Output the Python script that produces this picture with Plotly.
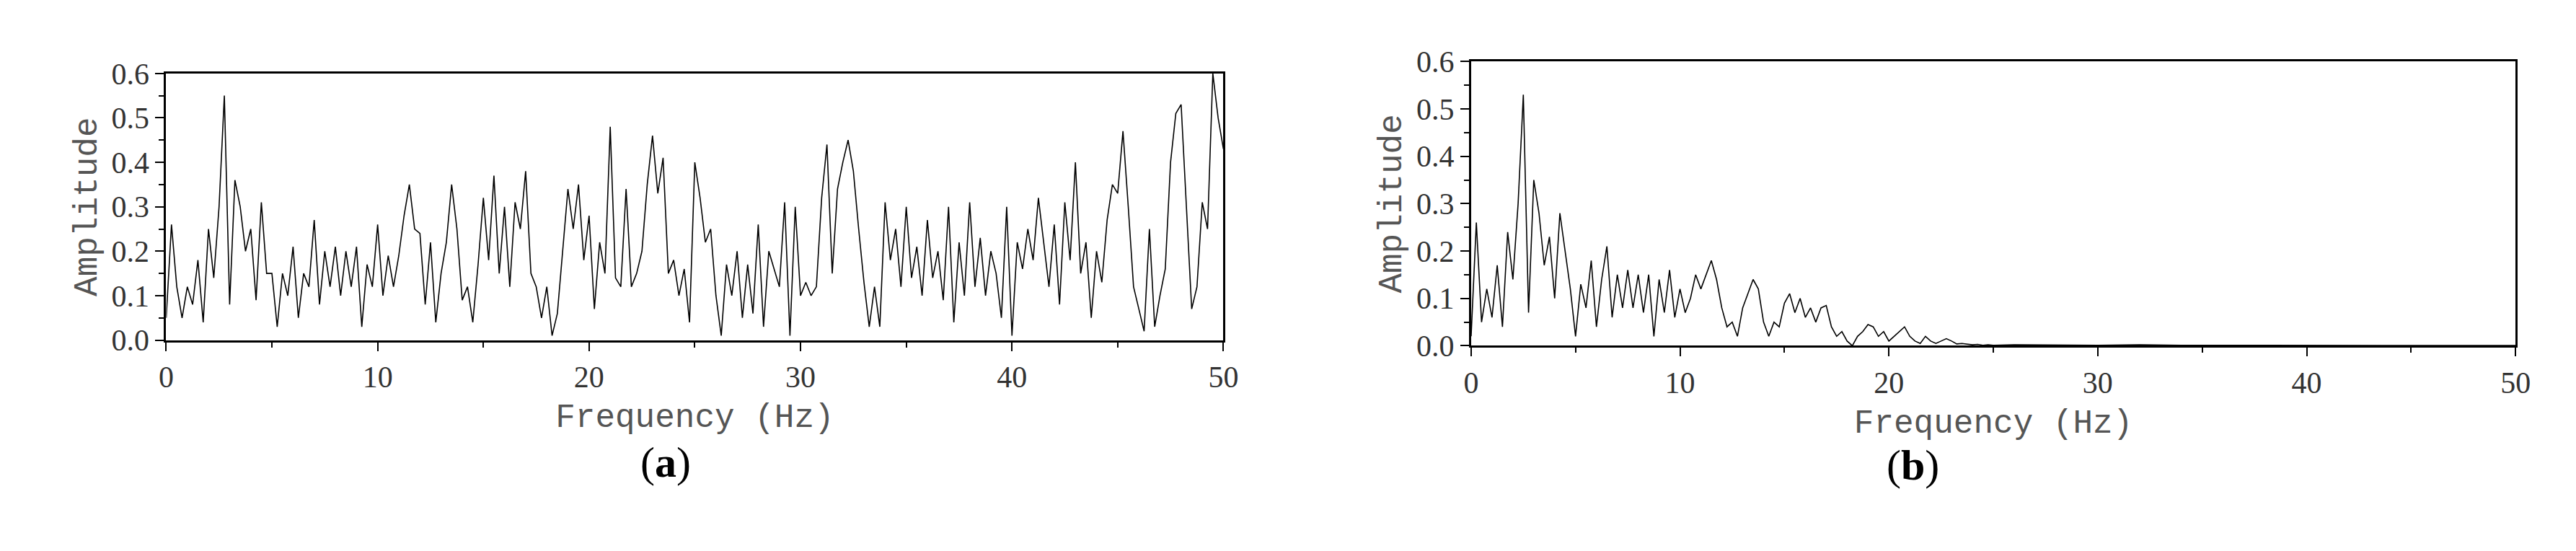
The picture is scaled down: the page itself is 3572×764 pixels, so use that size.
import plotly.graph_objects as go

amp_a = [0.05,0.26,0.12,0.05,0.12,0.08,0.18,0.04,0.25,0.14,0.30,0.55,0.08,0.36,0.30,0.20,0.25,0.09,0.31,0.15,
0.15,0.03,0.15,0.10,0.21,0.05,0.15,0.12,0.27,0.08,0.20,0.12,0.21,0.10,0.20,0.12,0.21,0.03,0.17,0.12,
0.26,0.10,0.19,0.12,0.19,0.28,0.35,0.25,0.24,0.08,0.22,0.04,0.15,0.22,0.35,0.25,0.09,0.12,0.04,0.17,
0.32,0.18,0.37,0.15,0.30,0.12,0.31,0.25,0.38,0.15,0.12,0.05,0.12,0.01,0.06,0.20,0.34,0.25,0.35,0.18,
0.28,0.07,0.22,0.15,0.48,0.14,0.12,0.34,0.12,0.15,0.20,0.35,0.46,0.33,0.41,0.15,0.18,0.10,0.16,0.04,
0.40,0.32,0.22,0.25,0.10,0.01,0.17,0.10,0.20,0.05,0.17,0.06,0.26,0.03,0.20,0.16,0.12,0.31,0.01,0.30,
0.10,0.13,0.10,0.12,0.32,0.44,0.15,0.34,0.40,0.45,0.38,0.25,0.13,0.03,0.12,0.03,0.31,0.18,0.25,0.12,
0.30,0.14,0.21,0.10,0.27,0.14,0.20,0.09,0.30,0.04,0.22,0.10,0.31,0.12,0.23,0.10,0.20,0.15,0.05,0.30,
0.01,0.22,0.16,0.25,0.18,0.32,0.22,0.12,0.26,0.08,0.31,0.18,0.40,0.15,0.22,0.05,0.20,0.13,0.27,0.35,
0.33,0.47,0.30,0.12,0.07,0.02,0.25,0.03,0.10,0.16,0.40,0.51,0.53,0.30,0.07,0.12,0.31,0.25,0.60,0.50,0.43]
freq_a = [i * 0.25 for i in range(len(amp_a))]

amp_b_low = [0.02,0.26,0.05,0.12,0.06,0.17,0.04,0.24,0.14,0.30,0.53,0.07,0.35,0.28,0.17,0.23,0.10,0.28,0.20,0.12,
0.02,0.13,0.08,0.18,0.04,0.14,0.21,0.06,0.15,0.08,0.16,0.08,0.15,0.07,0.15,0.02,0.14,0.07,0.16,0.06,
0.12,0.07,0.10,0.15,0.12,0.15,0.18,0.14,0.08,0.04,0.05,0.02,0.08,0.11,0.14,0.12,0.05,0.02,0.05,0.04,
0.09,0.11,0.07,0.10,0.06,0.08,0.05,0.08,0.085,0.04,0.02,0.03,0.01,0.0,0.02,0.03,0.045,0.04,0.02,0.03,
0.01,0.02,0.03,0.04,0.02,0.01,0.005,0.02,0.01,0.005,0.01,0.015,0.01,0.004,0.005,0.003,0.002,0.003,0.001,0.002,0.001]
freq_b_tail = [26, 28, 30, 32, 34, 38, 42, 46, 50]
amp_b_tail = [0.002, 0.001, 0.001, 0.002, 0.001, 0.001, 0.0005, 0.0005, 0.0005]
freq_b = [i * 0.25 for i in range(len(amp_b_low))] + freq_b_tail
amp_b = amp_b_low + amp_b_tail

x_ticks = [0, 10, 20, 30, 40, 50]
y_ticks = [0.0, 0.1, 0.2, 0.3, 0.4, 0.5, 0.6]

fig = go.Figure()
fig.add_trace(go.Scatter(x=freq_a, y=amp_a, mode="lines", line=dict(color="black", width=1.6), xaxis="x", yaxis="y"))
fig.add_trace(go.Scatter(x=freq_b, y=amp_b, mode="lines", line=dict(color="black", width=1.6), xaxis="x2", yaxis="y2"))

tickfont = dict(family="Liberation Serif", size=42, color="#333")
titlefont = dict(family="Liberation Mono", size=46, color="#555")

def xa(dom, anchor):
    return dict(domain=dom, anchor=anchor, range=[0, 50], tickvals=x_ticks, ticks="outside", ticklen=12,
                tickwidth=2, tickcolor="black", showline=True, linecolor="black", linewidth=3, mirror=True,
                showgrid=False, zeroline=False, tickfont=tickfont,
                minor=dict(dtick=5, ticks="outside", ticklen=7, tickwidth=2, tickcolor="black"),
                title=dict(text="Frequency (Hz)", font=titlefont, standoff=15))

def ya(dom, anchor):
    return dict(domain=dom, anchor=anchor, range=[0, 0.6], tickvals=y_ticks, tickformat=".1f", ticks="outside",
                ticklen=12, tickwidth=2, tickcolor="black", showline=True, linecolor="black", linewidth=3,
                mirror=True, showgrid=False, zeroline=False, tickfont=tickfont,
                minor=dict(dtick=0.05, ticks="outside", ticklen=7, tickwidth=2, tickcolor="black"),
                title=dict(text="Amplitude", font=titlefont, standoff=6))

fig.update_layout(
    width=3572, height=764, margin=dict(l=0, r=0, t=0, b=0),
    paper_bgcolor="white", plot_bgcolor="white", showlegend=False,
    xaxis=xa([0.060, 0.474], "y"), yaxis=ya([0.385, 0.90], "x"),
    xaxis2=xa([0.571, 0.980], "y2"), yaxis2=ya([0.374, 0.923], "x2"),
    annotations=[
        dict(text="(<b>a</b>)", x=0.245, y=0.10, xref="paper", yref="paper", showarrow=False,
             font=dict(family="Liberation Serif", size=60, color="black")),
        dict(text="(<b>b</b>)", x=0.755, y=0.095, xref="paper", yref="paper", showarrow=False,
             font=dict(family="Liberation Serif", size=60, color="black")),
    ],
)
fig.write_html("out.html")
